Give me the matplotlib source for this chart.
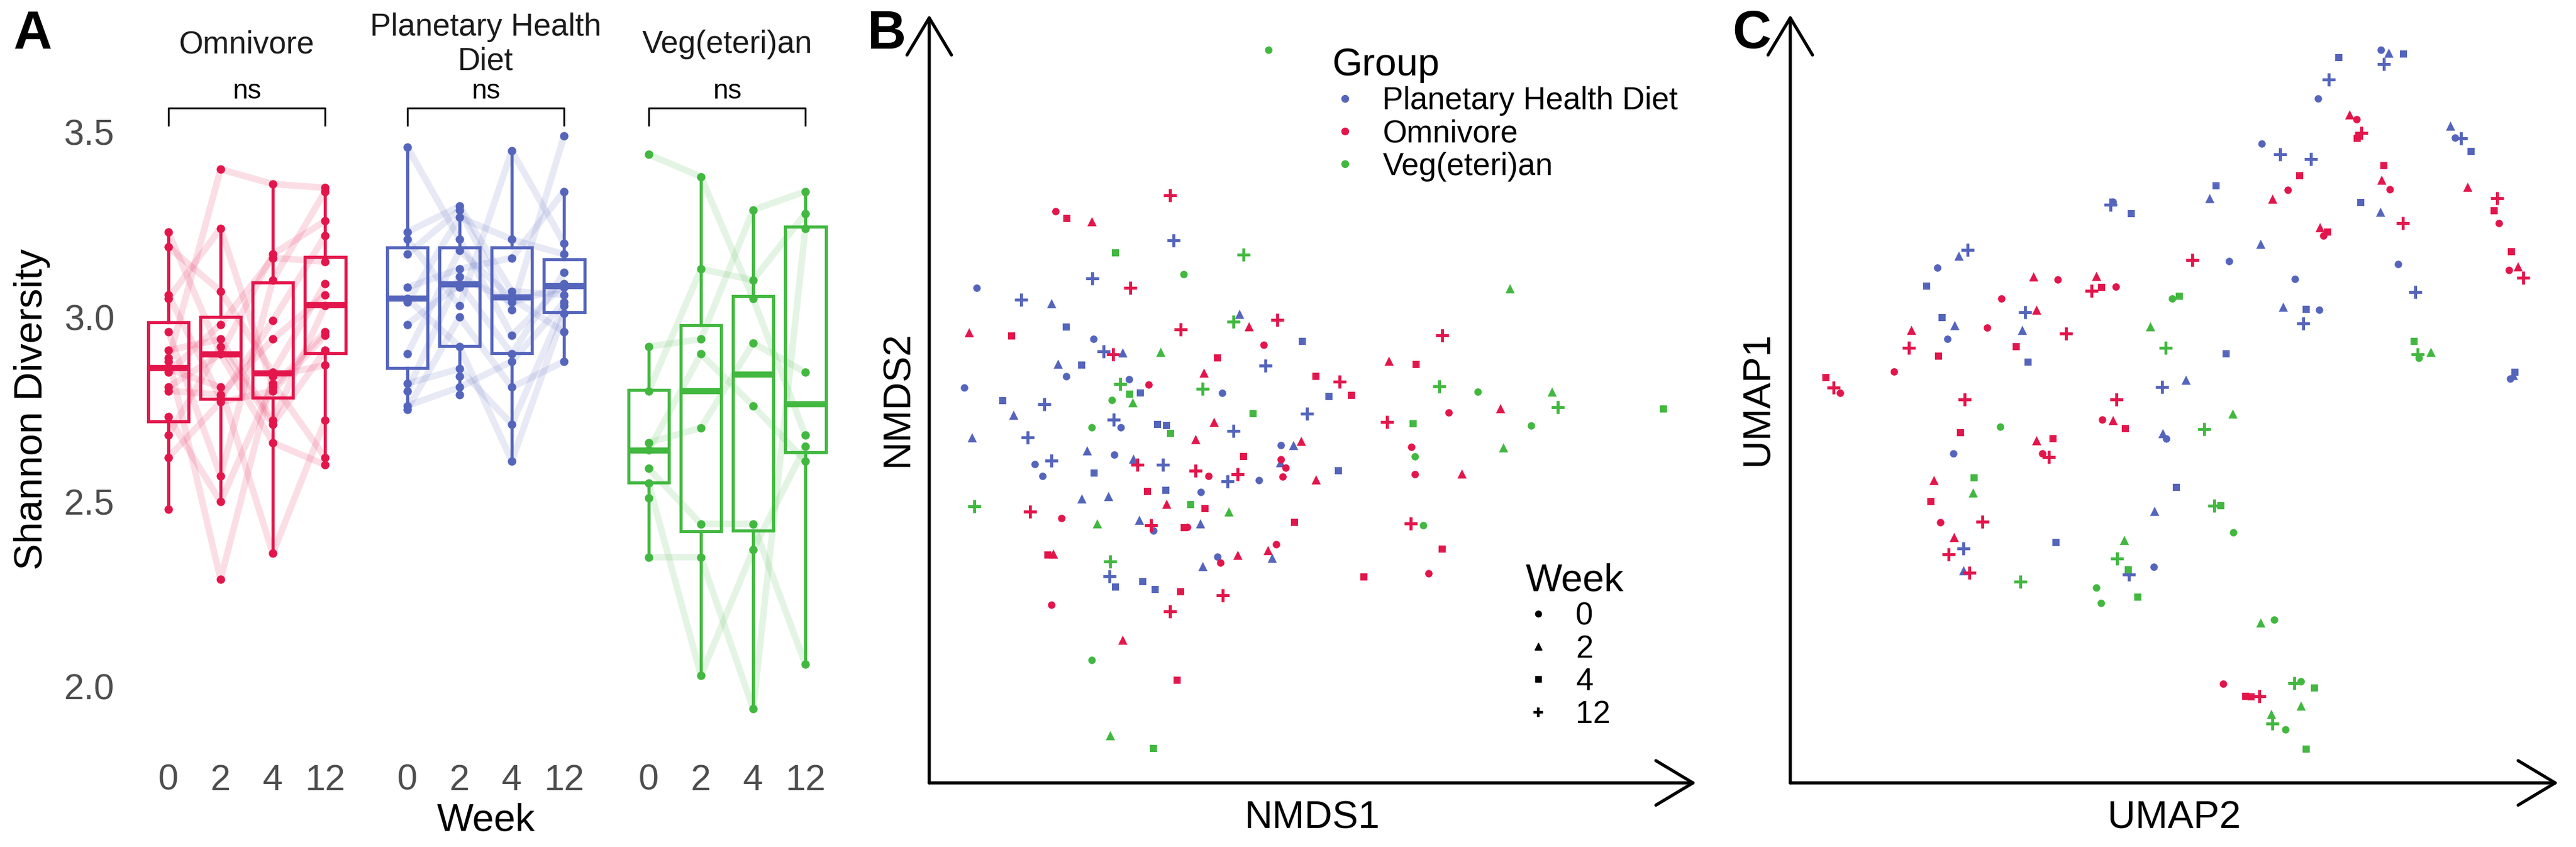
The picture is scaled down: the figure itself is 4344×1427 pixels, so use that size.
import numpy as np
import matplotlib.pyplot as plt
from matplotlib.lines import Line2D

W, H = 4344, 1427
plt.rcParams['font.family'] = ['Liberation Sans', 'DejaVu Sans']

RED = '#E3164C'
BLUE = '#5565BC'
GREEN = '#42B840'
GREY = '#4D4D4D'

weeks = ["0", "2", "4", "12"]
week_markers = ['o', '^', 's', '+']

# ---- panel A: Shannon diversity, one row per participant (weeks 0, 2, 4, 12)
omni_shannon = [
    [2.88, 3.40, 3.36, 3.35],
    [3.23, 2.90, 3.17, 3.26],
    [3.19, 3.07, 2.85, 3.09],
    [3.06, 2.78, 2.99, 3.22],
    [3.05, 3.24, 2.81, 2.96],
    [2.96, 2.57, 3.10, 3.34],
    [2.91, 2.94, 2.72, 3.03],
    [2.89, 2.29, 2.84, 2.87],
    [2.86, 2.81, 2.36, 2.72],
    [2.85, 2.98, 3.16, 3.15],
    [2.81, 2.90, 2.66, 2.60],
    [2.80, 2.79, 2.94, 3.06],
    [2.73, 2.50, 2.82, 2.62],
    [2.68, 2.92, 2.71, 2.91],
    [2.62, 2.77, 2.80, 2.95],
    [2.48, np.nan, np.nan, np.nan],
]
phd_shannon = [
    [3.46, 3.21, 2.95, 3.09],
    [3.23, 3.30, 3.07, 3.06],
    [3.21, 3.03, 3.45, 3.20],
    [3.17, 3.29, 3.02, 3.49],
    [3.08, 3.13, 3.16, 3.34],
    [3.05, 2.92, 2.61, 3.01],
    [3.04, 3.27, 3.21, 3.17],
    [2.98, 3.09, 2.90, 3.12],
    [2.90, 3.18, 3.05, 2.96],
    [2.82, 2.86, 2.71, 3.03],
    [2.80, 3.11, 3.04, 3.08],
    [2.76, 2.81, 2.88, 3.04],
    [2.75, 3.00, 2.81, 2.88],
    [np.nan, 3.08, np.nan, np.nan],
    [np.nan, 2.84, np.nan, np.nan],
    [np.nan, 2.79, np.nan, np.nan],
]
veg_shannon = [
    [3.44, 3.38, 3.05, 2.68],
    [2.92, 2.94, 3.29, 3.34],
    [2.80, 3.13, 3.10, 3.28],
    [2.66, 2.70, 2.93, 2.85],
    [2.64, 2.90, 2.76, 2.61],
    [2.59, 2.44, 2.44, 2.06],
    [2.55, 2.03, 2.37, 2.65],
    [2.35, 2.35, 1.94, 3.24],
    [2.51, np.nan, np.nan, np.nan],
]

# box statistics per week: whisker low, q1, median, q3, whisker high
omni_box = [
    [2.484, 2.717, 2.862, 2.985, 3.228],
    [2.501, 2.779, 2.899, 3.001, 3.236],
    [2.359, 2.782, 2.847, 3.093, 3.361],
    [2.596, 2.902, 3.033, 3.162, 3.354],
]
phd_box = [
    [2.750, 2.862, 3.050, 3.188, 3.460],
    [2.787, 2.921, 3.089, 3.188, 3.301],
    [2.605, 2.902, 3.053, 3.188, 3.447],
    [2.884, 3.013, 3.084, 3.156, 3.336],
]
veg_box = [
    [2.349, 2.552, 2.638, 2.803, 2.924],
    [2.027, 2.420, 2.800, 2.977, 3.375],
    [1.937, 2.422, 2.845, 3.057, 3.290],
    [2.061, 2.634, 2.764, 3.245, 3.336],
]

# ---- panel B: NMDS scores (arbitrary ordination units, NMDS2 increasing upward = smaller number)
nmds_phd_w0 = [(158, 533), (372, 628), (322, 697), (136, 718), (436, 703), (606, 728), (421, 792),
               (713, 825), (409, 842), (264, 860), (279, 882), (673, 890), (567, 911), (481, 983),
               (598, 1031)]
nmds_phd_w2 = [(295, 562), (637, 582), (425, 653), (307, 674), (226, 769), (150, 810), (736, 825),
               (360, 835), (444, 850), (712, 857), (350, 924), (398, 919), (455, 963), (566, 970),
               (697, 1033), (570, 1049)]
nmds_phd_w4 = [(322, 606), (752, 632), (350, 676), (457, 728), (801, 735), (206, 742), (488, 786),
               (504, 788), (373, 876), (818, 872), (503, 908), (412, 1087), (461, 1077), (484, 1092)]
nmds_phd_w12 = [(517, 446), (369, 516), (240, 555), (390, 651), (685, 678), (282, 749), (761, 767),
                (408, 777), (627, 798), (252, 810), (295, 853), (498, 861), (616, 892), (401, 1068)]
nmds_omni_w0 = [(302, 392), (682, 639), (472, 713), (1019, 764), (951, 828), (713, 851), (722, 867),
                (581, 882), (716, 883), (957, 879), (313, 960), (542, 976), (603, 1042), (705, 1008),
                (982, 1062), (295, 1120)]
nmds_omni_w2 = [(368, 410), (655, 605), (144, 616), (910, 669), (573, 691), (1113, 757), (591, 782),
                (557, 814), (750, 817), (1043, 878), (777, 889), (504, 933), (298, 1026), (634, 1028),
                (689, 1019), (425, 1185)]
nmds_omni_w4 = [(323, 405), (598, 663), (222, 622), (960, 675), (777, 697), (842, 732), (645, 846),
                (470, 910), (575, 942), (537, 978), (738, 968), (288, 1028), (1007, 1017), (530, 1096),
                (864, 1069), (524, 1260)]
nmds_omni_w12 = [(511, 362), (438, 534), (707, 593), (530, 610), (1007, 621), (407, 657), (820, 707),
                 (907, 782), (558, 872), (451, 861), (634, 879), (256, 948), (476, 973), (950, 970),
                 (607, 1103), (511, 1132)]
nmds_veg_w0 = [(690, 93), (536, 508), (1072, 726), (405, 741), (368, 792), (1169, 789), (958, 846),
               (973, 973), (368, 1222)]
nmds_veg_w2 = [(1130, 535), (494, 652), (1207, 726), (443, 746), (1119, 829), (618, 948), (378, 970),
               (402, 1362)]
nmds_veg_w4 = [(412, 469), (437, 730), (662, 767), (512, 803), (954, 785), (1410, 758), (549, 935),
               (481, 1386)]
nmds_veg_w12 = [(645, 472), (627, 596), (1002, 716), (420, 711), (570, 720), (1218, 754), (154, 938),
                (402, 1040)]

# ---- panel C: UMAP embedding (same convention)
umap_phd_w0 = [(1199, 93), (1079, 183), (1339, 256), (973, 266), (690, 374), (357, 496), (911, 484),
               (1231, 490), (1036, 517), (1082, 574), (376, 628), (1444, 702), (791, 813), (387, 840),
               (768, 1050)]
umap_phd_w2 = [(1213, 98), (1330, 234), (874, 368), (1197, 393), (970, 452), (398, 474), (1013, 569),
               (390, 603), (518, 612), (1449, 695), (829, 704), (785, 803), (769, 947), (406, 1057)]
umap_phd_w4 = [(1119, 107), (1241, 100), (1370, 281), (886, 345), (1160, 375), (725, 396), (337, 530),
               (1057, 573), (366, 588), (529, 671), (905, 655), (1453, 690), (810, 903), (582, 1005)]
umap_phd_w12 = [(1204, 119), (1100, 148), (1351, 257), (1007, 286), (1066, 295), (685, 380), (414, 463),
                (1264, 541), (524, 579), (1051, 599), (783, 717), (407, 1016), (720, 1064)]
umap_omni_w0 = [(1153, 221), (1216, 351), (1022, 352), (1422, 414), (1089, 437), (1442, 500), (585, 518),
                (696, 531), (479, 553), (451, 607), (275, 688), (172, 728), (670, 777), (556, 840),
                (363, 968), (899, 1266)]
umap_omni_w2 = [(1139, 213), (1200, 333), (993, 369), (1363, 347), (1083, 421), (1458, 494), (539, 513),
                (658, 511), (545, 574), (308, 612), (690, 779), (545, 816), (350, 890), (388, 995)]
umap_omni_w4 = [(1154, 257), (1204, 307), (1045, 326), (1413, 391), (1097, 430), (1446, 467), (669, 532),
                (507, 642), (359, 660), (145, 699), (714, 794), (401, 802), (576, 813), (345, 929),
                (942, 1290), (952, 1291)]
umap_omni_w12 = [(1161, 247), (1419, 368), (1240, 414), (841, 482), (1469, 515), (649, 539), (303, 645),
                 (601, 618), (160, 718), (409, 740), (697, 740), (569, 847), (443, 967), (378, 1027),
                 (418, 1061), (968, 1290)]
umap_veg_w0 = [(802, 553), (1271, 663), (476, 791), (919, 986), (658, 1088), (668, 1117), (996, 1148),
               (1047, 1262), (1018, 1351)]
umap_veg_w2 = [(761, 605), (1293, 652), (917, 766), (425, 913), (711, 1001), (970, 1153), (1047, 1307),
               (990, 1323)]
umap_veg_w4 = [(816, 549), (1262, 632), (427, 885), (895, 937), (719, 1055), (737, 1106), (1073, 1274),
               (1057, 1387)]
umap_veg_w12 = [(790, 645), (1268, 657), (863, 795), (882, 937), (698, 1035), (515, 1078), (1034, 1265),
                (993, 1340)]


fig = plt.figure(figsize=(W / 100, H / 100), dpi=100)


def add_axes_px(left, top, right, bottom):
    return fig.add_axes([left / W, 1 - bottom / H, (right - left) / W, (bottom - top) / H])


def text_px(x, y, s, **kw):
    return fig.text(x / W, 1 - y / H, s, **kw)


# ---------------- panel A
facets = [
    ("Omnivore", omni_shannon, omni_box, RED, 231),
    ("Planetary Health\nDiet", phd_shannon, phd_box, BLUE, 634),
    ("Veg(eteri)an", veg_shannon, veg_box, GREEN, 1041),
]
pos = np.arange(1, 5)
for i, (name, subj, box, color, left) in enumerate(facets):
    ax = add_axes_px(left, 86, left + 370, 1281)
    subj = np.array(subj, dtype=float)
    for row in subj:
        ax.plot(pos, row, color=color, alpha=0.14, lw=8, solid_joinstyle='round', zorder=1)
    stats = [dict(whislo=b[0], q1=b[1], med=b[2], q3=b[3], whishi=b[4], fliers=[]) for b in box]
    ax.bxp(stats, positions=pos, widths=0.78, showcaps=False, showfliers=False, patch_artist=True,
           boxprops=dict(facecolor='none', edgecolor=color, lw=3.8),
           medianprops=dict(color=color, lw=7.5, solid_capstyle='butt'),
           whiskerprops=dict(color=color, lw=3.8), zorder=2)
    for j in range(4):
        vals = subj[:, j]
        vals = vals[~np.isnan(vals)]
        ax.scatter(np.full(len(vals), pos[j]), vals, s=105, color=color, lw=0, zorder=4)
    # significance bracket week 0 vs week 12
    ax.plot([1, 1, 4, 4], [3.519, 3.566, 3.566, 3.519], color='black', lw=2.2, clip_on=False)
    ax.text(2.5, 3.575, "ns", ha='center', va='bottom', fontsize=33)
    ax.set_xlim(0.4, 4.6)
    ax.set_ylim(1.80, 3.72)
    ax.set_xticks(pos, weeks)
    if i == 0:
        ax.set_yticks([2.0, 2.5, 3.0, 3.5], ["2.0", "2.5", "3.0", "3.5"])
    else:
        ax.set_yticks([])
    ax.tick_params(length=0, labelsize=44, colors=GREY, pad=4)
    ax.tick_params(axis='y', pad=27)
    for sp in ax.spines.values():
        sp.set_visible(False)
    ax.patch.set_alpha(0)
    text_px(left + 185, 75, name, ha='center', va='center', fontsize=38, color='#1A1A1A',
            linespacing=1.2)

text_px(820, 1383, "Week", ha='center', va='center', fontsize=47)
text_px(54, 689, "Shannon Diversity", ha='center', va='center', rotation=90, fontsize=48)
text_px(23, 58, "A", ha='left', va='center', fontsize=65, fontweight='bold')


# ---------------- panels B and C
def ordination(ax, series, xlim, ylim):
    for color, per_week in series:
        for marker, pts in zip(week_markers, per_week):
            xs, ys = zip(*pts)
            if marker == '+':
                ax.scatter(xs, ys, marker='+', s=230, color=color, linewidths=3.6, zorder=3)
            elif marker == '^':
                ax.scatter(xs, ys, marker='^', s=125, color=color, lw=0, zorder=3)
            elif marker == 's':
                ax.scatter(xs, ys, marker='s', s=80, color=color, lw=0, zorder=3)
            else:
                ax.scatter(xs, ys, marker='o', s=82, color=color, lw=0, zorder=3)
    ax.set_xlim(*xlim)
    ax.set_ylim(*ylim)
    ax.set_xticks([])
    ax.set_yticks([])
    for sp in ax.spines.values():
        sp.set_visible(False)
    arrow = dict(arrowstyle='->,head_length=0.75,head_width=0.45', lw=3.8, color='black',
                 shrinkA=0, shrinkB=0, mutation_scale=60)
    ax.annotate('', xy=(0, 1), xytext=(0, 0), xycoords='axes fraction', arrowprops=arrow)
    ax.annotate('', xy=(1, 0), xytext=(0, 0), xycoords='axes fraction', arrowprops=arrow)


ax_b = add_axes_px(1567, 25, 2860, 1319)
ordination(ax_b, [
    (BLUE, [nmds_phd_w0, nmds_phd_w2, nmds_phd_w4, nmds_phd_w12]),
    (RED, [nmds_omni_w0, nmds_omni_w2, nmds_omni_w4, nmds_omni_w12]),
    (GREEN, [nmds_veg_w0, nmds_veg_w2, nmds_veg_w4, nmds_veg_w12]),
], (72, 1470), (1450, 28))

ax_c = add_axes_px(3019, 25, 4314, 1319)
ordination(ax_c, [
    (BLUE, [umap_phd_w0, umap_phd_w2, umap_phd_w4, umap_phd_w12]),
    (RED, [umap_omni_w0, umap_omni_w2, umap_omni_w4, umap_omni_w12]),
    (GREEN, [umap_veg_w0, umap_veg_w2, umap_veg_w4, umap_veg_w12]),
], (78, 1535), (1450, 28))

text_px(2213, 1379, "NMDS1", ha='center', va='center', fontsize=47)
text_px(1514, 672, "NMDS2", ha='center', va='center', rotation=90, fontsize=47)
text_px(3666, 1379, "UMAP2", ha='center', va='center', fontsize=47)
text_px(2963, 672, "UMAP1", ha='center', va='center', rotation=90, fontsize=47)
text_px(1463, 58, "B", ha='left', va='center', fontsize=65, fontweight='bold')
text_px(2921, 58, "C", ha='left', va='center', fontsize=65, fontweight='bold')

# legends for panel B
group_handles = [Line2D([], [], ls='', marker='o', markersize=8.5, color=c) for c in (BLUE, RED, GREEN)]
leg_group = ax_b.legend(group_handles, ["Planetary Health Diet", "Omnivore", "Veg(eteri)an"],
                        title="Group", loc='upper left', bbox_to_anchor=(2247 / W, 1 - 80 / H),
                        bbox_transform=fig.transFigure, frameon=False, fontsize=38, title_fontsize=47,
                        alignment='left', handlelength=0.8, handletextpad=0.8, labelspacing=0.1,
                        borderpad=0, borderaxespad=0)
ax_b.add_artist(leg_group)
week_handles = [
    Line2D([], [], ls='', marker='o', markersize=7.5, color='black'),
    Line2D([], [], ls='', marker='^', markersize=9, color='black'),
    Line2D([], [], ls='', marker='s', markersize=7, color='black'),
    Line2D([], [], ls='', marker='+', markersize=12, markeredgewidth=3.2, color='black'),
]
ax_b.legend(week_handles, weeks, title="Week", loc='upper left',
            bbox_to_anchor=(2573 / W, 1 - 948 / H), bbox_transform=fig.transFigure, frameon=False,
            fontsize=38, title_fontsize=47, alignment='left', handlelength=0.8, handletextpad=0.8,
            labelspacing=0.1, borderpad=0, borderaxespad=0)

fig.savefig("out.png", dpi=100)
